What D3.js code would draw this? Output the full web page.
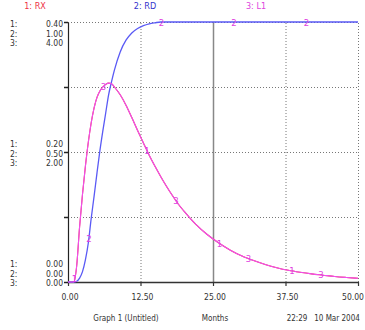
<!DOCTYPE html>
<html>
<head>
<meta charset="utf-8">
<script src="https://cdn.jsdelivr.net/npm/d3@7"></script>
<style>
  body { margin: 0; background: #fff; }
  svg text { font-family: "Liberation Sans Narrow", "DejaVu Sans Condensed", "Liberation Sans", sans-serif; }
</style>
</head>
<body>
<svg id="chart" width="365" height="330"></svg>
<script>
// time in months
const months = [0,1,1.5,2,2.5,3,3.5,4,4.5,5,5.5,6,6.5,7,7.5,8,9,10,11,12,13,14,15,16,17,18,19,20,22,24,26,28,30,32,34,36,38,40,42,44,46,48,50];
const rx = [0,0,0.025,0.085,0.135,0.178,0.215,0.245,0.268,0.284,0.294,0.3,0.304,0.306,0.305,0.3,0.288,0.272,0.253,0.233,0.214,0.195,0.178,0.162,0.147,0.133,0.12,0.109,0.089,0.073,0.06,0.049,0.04,0.033,0.027,0.022,0.018,0.015,0.0125,0.0105,0.0085,0.007,0.0057];
const rd = [0,0,0.003,0.015,0.04,0.085,0.15,0.245,0.33,0.42,0.505,0.58,0.65,0.72,0.77,0.815,0.885,0.93,0.958,0.975,0.986,0.993,0.997,1,1,1,1,1,1,1,1,1,1,1,1,1,1,1,1,1,1,1,1];
const l1 = [0,0,0.25,0.85,1.35,1.78,2.15,2.45,2.68,2.84,2.94,3.0,3.04,3.06,3.05,3.0,2.88,2.72,2.53,2.33,2.14,1.95,1.78,1.62,1.47,1.33,1.2,1.09,0.89,0.73,0.6,0.49,0.4,0.33,0.27,0.22,0.18,0.15,0.125,0.105,0.085,0.07,0.057];

const seriesNames = ['1: RX', '2: RD', '3: L1'];
const markerTimes = [[1.1, 13.6, 26.1, 38.6], [3.6, 16.1, 28.6, 41.1], [6.1, 18.6, 31.1, 43.6]];
const xTicks = [0, 12.5, 25, 37.5, 50];
const scaleTop = ['0.40', '1.00', '4.00'];
const scaleMid = ['0.20', '0.50', '2.00'];
const scaleBot = ['0.00', '0.00', '0.00'];
const footer = ['Graph 1 (Untitled)', 'Months', '22:29', '10 Mar 2004'];

const pLeft = 68, pRight = 358, pTop = 22, pBottom = 282;

const svg = d3.select('#chart');

const x = d3.scaleLinear().domain([0, 50]).range([pLeft, pRight]);
const y1 = d3.scaleLinear().domain([0, 0.4]).range([pBottom, pTop]);
const y2 = d3.scaleLinear().domain([0, 1]).range([pBottom, pTop]);
const y3 = d3.scaleLinear().domain([0, 4]).range([pBottom, pTop]);

const colors = ['#ee3344', '#5a5af5', '#f050f0'];
const markColors = ['#e040e0', '#e040e0', '#e040e0'];
const headColors = ['#ee3344', '#3333cc', '#dd44dd'];

// header
const headX = [35, 145, 256];
svg.selectAll('text.head')
  .data(seriesNames)
  .join('text')
  .attr('class', 'head')
  .attr('x', (d, i) => headX[i])
  .attr('y', 9)
  .attr('text-anchor', 'middle')
  .attr('font-size', 9)
  .attr('fill', (d, i) => headColors[i])
  .text(d => d);

// horizontal grid (dotted)
svg.append('g')
  .attr('transform', `translate(${pLeft},0)`)
  .call(d3.axisLeft(y2).tickValues([0.25, 0.5, 0.75, 1]).tickSize(-(pRight - pLeft)).tickFormat(''))
  .call(g => g.select('.domain').remove())
  .call(g => g.selectAll('line').attr('stroke', '#777').attr('stroke-dasharray', '1,2'));

// vertical grid
svg.append('g')
  .attr('transform', `translate(0,${pBottom})`)
  .call(d3.axisBottom(x).tickValues([12.5, 25, 37.5, 50]).tickSize(-(pBottom - pTop)).tickFormat(''))
  .call(g => g.select('.domain').remove())
  .call(g => g.selectAll('line')
    .attr('stroke', d => d === 25 ? '#888' : '#777')
    .attr('stroke-width', d => d === 25 ? 1.5 : 1)
    .attr('stroke-dasharray', d => d === 25 ? null : '1,2'));

// left axis with short ticks
svg.append('g')
  .attr('transform', `translate(${pLeft},0)`)
  .call(d3.axisLeft(y2).tickValues([0, 0.25, 0.5, 0.75, 1]).tickSize(4).tickSizeOuter(0).tickFormat(''))
  .call(g => g.select('.domain').attr('stroke', '#222').attr('stroke-width', 1.2))
  .call(g => g.selectAll('line').attr('stroke', '#222').attr('stroke-width', 1.5));

// bottom axis
svg.append('g')
  .attr('transform', `translate(0,${pBottom})`)
  .call(d3.axisBottom(x).tickValues(xTicks).tickSize(4).tickSizeOuter(0).tickFormat(''))
  .call(g => g.select('.domain').attr('stroke', '#333').attr('stroke-width', 1.5))
  .call(g => g.selectAll('line').attr('stroke', '#333').attr('stroke-width', 1.2));

svg.selectAll('text.xt')
  .data(xTicks)
  .join('text')
  .attr('class', 'xt')
  .attr('x', (d, i) => i === xTicks.length - 1 ? x(d) - 5 : x(d) + 2)
  .attr('y', 300)
  .attr('text-anchor', 'middle')
  .attr('font-size', 8.5)
  .attr('fill', '#333')
  .text(d => d.toFixed(2));

// scale labels on the left
function scaleGroup(vals, y0) {
  vals.forEach((v, i) => {
    svg.append('text').attr('x', 10).attr('y', y0 + i * 9.7).attr('font-size', 8.5).attr('fill', '#333').text((i + 1) + ':');
    svg.append('text').attr('x', 63).attr('y', y0 + i * 9.7).attr('text-anchor', 'end').attr('font-size', 8.5).attr('fill', '#333').text(v);
  });
}
scaleGroup(scaleTop, 27);
scaleGroup(scaleMid, 147);
scaleGroup(scaleBot, 267);

// lines
const ys = [y1, y2, y3];
const vals = [rx, rd, l1];
const lineGen = (yScale, arr) => d3.line()
  .x((d, i) => x(months[i]))
  .y((d, i) => yScale(arr[i]))
  .curve(d3.curveMonotoneX)(arr);

vals.forEach((arr, k) => {
  svg.append('path')
    .attr('d', lineGen(ys[k], arr))
    .attr('fill', 'none')
    .attr('stroke', colors[k])
    .attr('stroke-width', k === 1 ? 1.3 : 1.1);
});

// number markers along each curve
const bis = d3.bisector(d => d).left;
function valueAt(arr, t) {
  const j = Math.max(1, bis(months, t));
  const t0 = months[j - 1], t1 = months[j];
  return arr[j - 1] + (arr[j] - arr[j - 1]) * (t - t0) / (t1 - t0);
}
markerTimes.forEach((ts, k) => {
  ts.forEach(t => {
    svg.append('text')
      .attr('x', x(t))
      .attr('y', ys[k](valueAt(vals[k], t)) + 3.5)
      .attr('text-anchor', 'middle')
      .attr('font-size', 9.5)
      .attr('fill', markColors[k])
      .text(k + 1);
  });
});

// footer
const footX = [126, 215, 297, 337];
svg.selectAll('text.foot')
  .data(footer)
  .join('text')
  .attr('class', 'foot')
  .attr('x', (d, i) => footX[i])
  .attr('y', 321)
  .attr('text-anchor', 'middle')
  .attr('font-size', 8)
  .attr('fill', '#333')
  .text(d => d);
</script>
</body>
</html>
